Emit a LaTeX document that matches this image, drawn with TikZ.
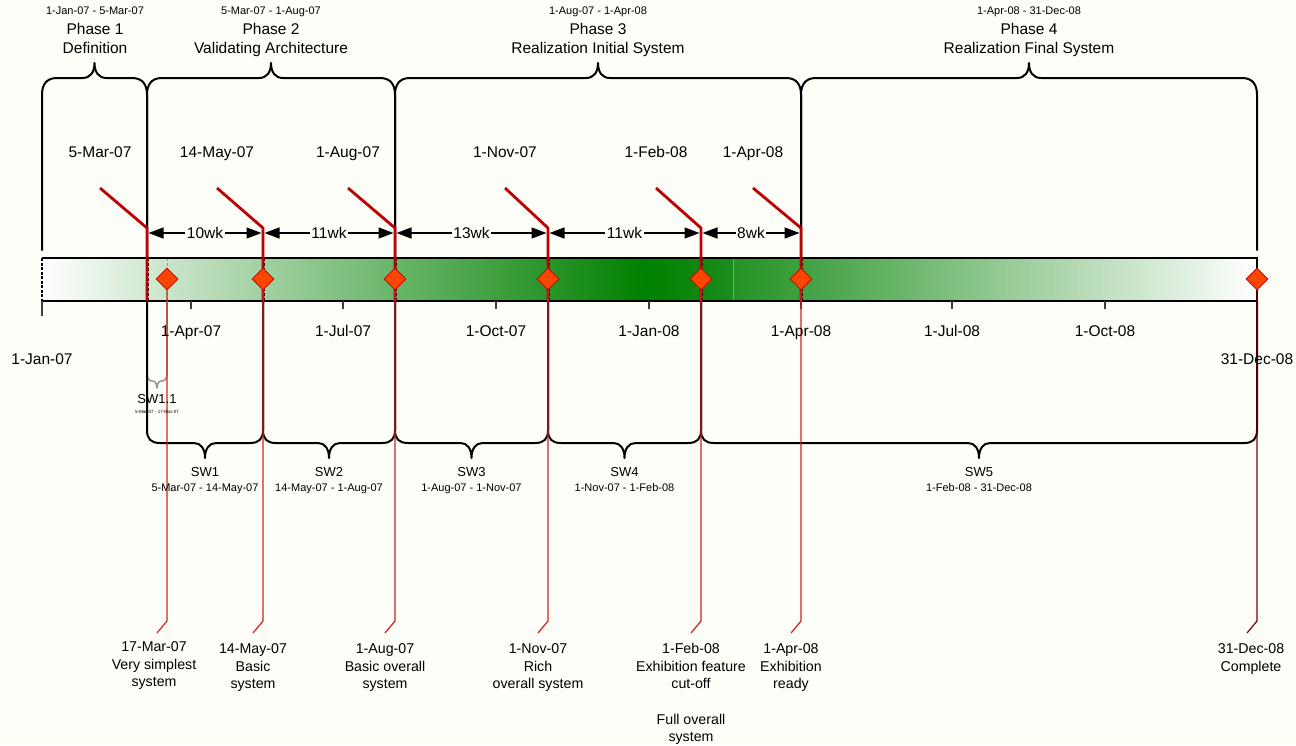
\documentclass[tikz,border=0pt]{standalone}
\usepackage{fontspec}
\setmainfont{Liberation Sans}
\usetikzlibrary{arrows.meta,shapes.geometric}

\definecolor{paper}{RGB}{254,254,249}
\definecolor{msred}{RGB}{192,0,0}
\definecolor{linkred}{RGB}{205,35,35}
\definecolor{diafill}{RGB}{250,70,0}
\definecolor{bargreen}{RGB}{0,128,0}
\definecolor{bargreenA}{RGB}{28,140,28}
\definecolor{bargreenB}{RGB}{36,146,36}
\definecolor{tickgray}{RGB}{60,60,60}
\definecolor{subgray}{RGB}{150,150,150}

\newcommand\fsz[1]{\fontsize{#1}{#1}\selectfont}

% curly bracket over a phase: x1, x2, lower end of left side, lower end of right side
\newcommand\phasebrace[4]{%
  \pgfmathsetmacro\pbmid{(#1+#2)/2}%
  \draw[bracestroke] (#1,#3) -- (#1,95)
    .. controls (#1,85) and ({#1+4},78) .. ({#1+15},78)
    -- ({\pbmid-12},78)
    .. controls ({\pbmid-4},78) and (\pbmid,72) .. (\pbmid,63)
    .. controls (\pbmid,72) and ({\pbmid+4},78) .. ({\pbmid+12},78)
    -- ({#2-15},78)
    .. controls ({#2-4},78) and (#2,85) .. (#2,95) -- (#2,#4);}

% curly bracket under a software increment: x1, x2
\newcommand\swbrace[2]{%
  \pgfmathsetmacro\sbmid{(#1+#2)/2}%
  \draw[bracestroke] (#1,301) -- (#1,430)
    .. controls (#1,439) and ({#1+4},443) .. ({#1+13},443)
    -- ({\sbmid-11},443)
    .. controls ({\sbmid-4},443) and (\sbmid,449) .. (\sbmid,458)
    .. controls (\sbmid,449) and ({\sbmid+4},443) .. ({\sbmid+11},443)
    -- ({#2-13},443)
    .. controls ({#2-4},443) and (#2,439) .. (#2,430) -- (#2,301);}

\begin{document}
\begin{tikzpicture}[x=1pt,y=-1pt,
  every node/.style={inner sep=0pt},
  bracestroke/.style={line width=2pt, line join=round, line cap=round},
  lbl/.style={anchor=base, font=\fsz{15.5}},
  datesmall/.style={anchor=base, font=\fsz{11}},
  swname/.style={anchor=base, font=\fsz{13}},
  note/.style={anchor=base, font=\fsz{14.2}},
  msline/.style={draw=msred, line width=2.8pt, line join=miter},
  droplink/.style={draw=linkred, line width=1.2pt},
  inbar/.style={draw=black, line width=1pt, dash pattern=on 3pt off 2pt},
  tickmark/.style={draw=tickgray, line width=1.2pt},
  milestone/.style={diamond, draw=msred, fill=diafill, line width=0.8pt,
    minimum width=22pt, minimum height=22pt, inner sep=0pt},
  durarrow/.style={{Triangle[length=15pt,width=11pt]}-{Triangle[length=15pt,width=11pt]},
    line width=1.5pt, shorten <=1.5pt, shorten >=1.5pt},
  wk/.style={fill=paper, inner sep=1.5pt, font=\fsz{15.5}}]

\useasboundingbox (0,0) rectangle (1296,745);
\fill[paper] (0,0) rectangle (1296,745);

% ---------- time bar ----------
\shade[left color=white, right color=bargreen] (42,258) rectangle (645.5,301);
\shade[left color=bargreen, right color=bargreenA] (645,258) rectangle (733.5,301);
\shade[left color=bargreenB, right color=white] (733,258) rectangle (1257,301);
\draw[bargreenB!70!white, line width=0.6pt] (733.5,259) -- (733.5,300);
\foreach \x in {148.5,264.5,396.5,549.5,702.5,802.5}
  \draw[inbar] (\x,258) -- (\x,301);
\draw[subgray, line width=1pt, dash pattern=on 3pt off 2pt] (167,258) -- (167,301);
\draw[line width=1.5pt] (42,258) -- (1257,258) -- (1257,301) -- (42,301);
\draw[line width=1.5pt, dash pattern=on 3pt off 1.5pt] (42,258) -- (42,301);

% ---------- phase brackets ----------
\phasebrace{42}{147}{250}{258}
\phasebrace{147}{395}{258}{258}
\phasebrace{395}{801}{258}{258}
\phasebrace{801}{1257}{258}{250}

% ---------- increment brackets ----------
\draw[subgray, line width=1.5pt, line join=round] (147,301) -- (147,373)
  .. controls (147,378) and (149,381) .. (152,381) -- (153,381)
  .. controls (155,381) and (157,384) .. (157,388)
  .. controls (157,384) and (159,381) .. (161,381) -- (162,381)
  .. controls (165,381) and (167,378) .. (167,373) -- (167,301);
\swbrace{147}{263}
\swbrace{263}{395}
\swbrace{395}{548}
\swbrace{548}{701}
\swbrace{701}{1257}

% ---------- month ticks ----------
\draw[tickmark] (42,301) -- (42,316);
\foreach \x in {191,343,496,649,801,952,1105}
  \draw[tickmark] (\x,301) -- (\x,309);

% ---------- milestone flags ----------
\foreach \nm/\tx/\x in {a/100/147, b/217/263, c/348/395, d/505/548, e/656/701, f/753/801} {
  \coordinate (flag-\nm) at (\tx,188);
  \coordinate (bend-\nm) at (\x,228);
  \coordinate (foot-\nm) at (\x,301);
  \coordinate (ar-\nm) at (\x,233);
}
\foreach \nm in {a,b,c,d,e,f}
  \draw[msline] (flag-\nm) -- (bend-\nm) -- (foot-\nm);

% ---------- durations ----------
\draw[durarrow] (ar-a) -- node[wk] (wk1) {10wk} (ar-b);
\draw[durarrow] (ar-b) -- node[wk] (wk2) {11wk} (ar-c);
\draw[durarrow] (ar-c) -- node[wk] (wk3) {13wk} (ar-d);
\draw[durarrow] (ar-d) -- node[wk] (wk4) {11wk} (ar-e);
\draw[durarrow] (ar-e) -- node[wk] (wk5) {8wk} (ar-f);

% ---------- delivery milestones ----------
\foreach \nm/\x/\lc in {m1/167/linkred, m2/263/linkred, m3/395/linkred, m4/548/linkred,
                        m5/701/linkred, m6/801/linkred, m7/1257/msred!65!black} {
  \node[milestone] (\nm) at (\x,279) {};
  \coordinate (knee-\nm) at (\x,621);
  \coordinate (tail-\nm) at (\x-10,633);
  \draw[droplink, draw=\lc] (\nm) -- (knee-\nm) -- (tail-\nm);
}

% ---------- phase titles ----------
\node[datesmall] (p1d) at (95,14) {1-Jan-07 - 5-Mar-07};
\node[lbl] (p1n) at (95,34.5) {Phase 1};
\node[lbl] (p1t) at (95,53) {Definition};
\node[datesmall] (p2d) at (271,14) {5-Mar-07 - 1-Aug-07};
\node[lbl] (p2n) at (271,34.5) {Phase 2};
\node[lbl] (p2t) at (271,53) {Validating Architecture};
\node[datesmall] (p3d) at (598,14) {1-Aug-07 - 1-Apr-08};
\node[lbl] (p3n) at (598,34.5) {Phase 3};
\node[lbl] (p3t) at (598,53) {Realization Initial System};
\node[datesmall] (p4d) at (1029,14) {1-Apr-08 - 31-Dec-08};
\node[lbl] (p4n) at (1029,34.5) {Phase 4};
\node[lbl] (p4t) at (1029,53) {Realization Final System};

% ---------- milestone dates above the bar ----------
\node[lbl] (fa) at (100,157) {5-Mar-07};
\node[lbl] (fb) at (217,157) {14-May-07};
\node[lbl] (fc) at (348,157) {1-Aug-07};
\node[lbl] (fd) at (505,157) {1-Nov-07};
\node[lbl] (fe) at (656,157) {1-Feb-08};
\node[lbl] (ff) at (753,157) {1-Apr-08};

% ---------- axis dates ----------
\node[lbl] (t0) at (42,364) {1-Jan-07};
\node[lbl] (t1) at (191,336) {1-Apr-07};
\node[lbl] (t2) at (343,336) {1-Jul-07};
\node[lbl] (t3) at (496,336) {1-Oct-07};
\node[lbl] (t4) at (649,336) {1-Jan-08};
\node[lbl] (t5) at (801,336) {1-Apr-08};
\node[lbl] (t6) at (952,336) {1-Jul-08};
\node[lbl] (t7) at (1105,336) {1-Oct-08};
\node[lbl] (t8) at (1257,364) {31-Dec-08};

% ---------- increment labels ----------
\node[swname] (s11) at (157,403) {SW1.1};
\node[anchor=base, font=\fsz{4.6}] (s11d) at (157,413.5) {5-Mar-07 - 17-Mar-07};
\node[swname] (s1) at (205,476.5) {SW1};
\node[datesmall] (s1d) at (205,491) {5-Mar-07 - 14-May-07};
\node[swname] (s2) at (329,476.5) {SW2};
\node[datesmall] (s2d) at (329,491) {14-May-07 - 1-Aug-07};
\node[swname] (s3) at (471.5,476.5) {SW3};
\node[datesmall] (s3d) at (471.5,491) {1-Aug-07 - 1-Nov-07};
\node[swname] (s4) at (624.5,476.5) {SW4};
\node[datesmall] (s4d) at (624.5,491) {1-Nov-07 - 1-Feb-08};
\node[swname] (s5) at (979,476.5) {SW5};
\node[datesmall] (s5d) at (979,491) {1-Feb-08 - 31-Dec-08};

% ---------- delivery notes ----------
\node[note] (n1a) at (154,651) {17-Mar-07};
\node[note] (n1b) at (154,669) {Very simplest};
\node[note] (n1c) at (154,686) {system};
\node[note] (n2a) at (253,653) {14-May-07};
\node[note] (n2b) at (253,671) {Basic};
\node[note] (n2c) at (253,688) {system};
\node[note] (n3a) at (385,653) {1-Aug-07};
\node[note] (n3b) at (385,671) {Basic overall};
\node[note] (n3c) at (385,688) {system};
\node[note] (n4a) at (538,653) {1-Nov-07};
\node[note] (n4b) at (538,671) {Rich};
\node[note] (n4c) at (538,688) {overall system};
\node[note] (n5a) at (691,653) {1-Feb-08};
\node[note] (n5b) at (691,671) {Exhibition feature};
\node[note] (n5c) at (691,688) {cut-off};
\node[note] (n5d) at (691,724) {Full overall};
\node[note] (n5e) at (691,741) {system};
\node[note] (n6a) at (791,653) {1-Apr-08};
\node[note] (n6b) at (791,671) {Exhibition};
\node[note] (n6c) at (791,688) {ready};
\node[note] (n7a) at (1251,653) {31-Dec-08};
\node[note] (n7b) at (1251,671) {Complete};
\end{tikzpicture}
\end{document}
